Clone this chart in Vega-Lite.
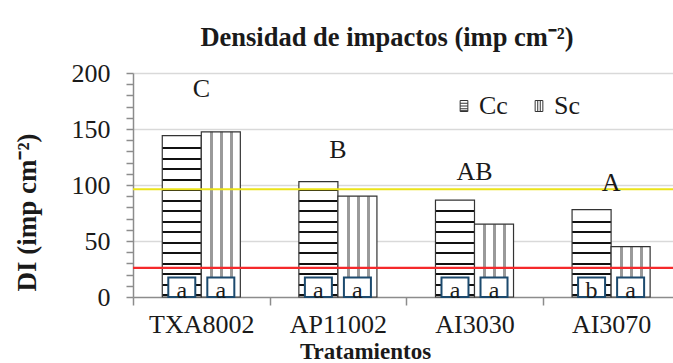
{
  "$schema": "https://vega.github.io/schema/vega-lite/v6.json",
  "autosize": {"type": "none"},
  "padding": {"left": 133, "top": 73, "right": 0, "bottom": 66},
  "width": 540,
  "height": 224,
  "background": "white",
  "title": {
    "text": "Densidad de impactos (imp cm⁻²)",
    "font": "Liberation Serif",
    "fontSize": 26.5,
    "fontWeight": "bold",
    "color": "#1a1a1a",
    "frame": "group",
    "anchor": "middle",
    "dx": -16,
    "baseline": "alphabetic",
    "offset": -12
  },
  "datasets": {
    "impactos": [
      {"trat": "TXA8002", "cond": "Cc", "di": 144, "letra": "a"},
      {"trat": "TXA8002", "cond": "Sc", "di": 147.5, "letra": "a"},
      {"trat": "AP11002", "cond": "Cc", "di": 103, "letra": "a"},
      {"trat": "AP11002", "cond": "Sc", "di": 90, "letra": "a"},
      {"trat": "AI3030", "cond": "Cc", "di": 86.5, "letra": "a"},
      {"trat": "AI3030", "cond": "Sc", "di": 65, "letra": "a"},
      {"trat": "AI3070", "cond": "Cc", "di": 78, "letra": "b"},
      {"trat": "AI3070", "cond": "Sc", "di": 45, "letra": "a"}
    ],
    "grupos": [
      {"trat": "TXA8002", "grupo": "C", "pos": 186},
      {"trat": "AP11002", "grupo": "B", "pos": 131.5},
      {"trat": "AI3030", "grupo": "AB", "pos": 112},
      {"trat": "AI3070", "grupo": "A", "pos": 102}
    ],
    "umbrales": [
      {"umbral": "superior", "di": 96.2},
      {"umbral": "inferior", "di": 26}
    ]
  },
  "encoding": {
    "x": {
      "field": "trat",
      "type": "nominal",
      "sort": ["TXA8002", "AP11002", "AI3030", "AI3070"],
      "scale": {"range": [0, 546.4], "paddingInner": 0, "paddingOuter": 0},
      "axis": {
        "title": "Tratamientos",
        "titleFont": "Liberation Serif",
        "titleFontSize": 23,
        "titleFontWeight": "bold",
        "titleColor": "#1a1a1a",
        "titleX": 232,
        "titleY": 61,
        "titleBaseline": "alphabetic",
        "titleAlign": "center",
        "labelAngle": 0,
        "labelFont": "Liberation Serif",
        "labelFontSize": 26,
        "labelColor": "#1a1a1a",
        "labelPadding": 27,
        "labelBaseline": "alphabetic",
        "tickBand": "extent",
        "tickSize": 8,
        "tickColor": "#8c8c8c",
        "tickWidth": 1.5,
        "domainColor": "#8c8c8c",
        "domainWidth": 1.5,
        "grid": false
      }
    },
    "y": {
      "field": "di",
      "type": "quantitative",
      "scale": {"domain": [0, 200], "nice": false},
      "axis": {
        "title": "DI (imp cm⁻²)",
        "titleFont": "Liberation Serif",
        "titleFontSize": 27,
        "titleFontWeight": "bold",
        "titleColor": "#1a1a1a",
        "titleAngle": -90,
        "titleX": -106,
        "titleY": 139,
        "titleAlign": "center",
        "titleBaseline": "middle",
        "values": [0, 10, 20, 30, 40, 50, 60, 70, 80, 90, 100, 110, 120, 130, 140, 150, 160, 170, 180, 190, 200],
        "labelExpr": "datum.value % 50 === 0 ? datum.label : ''",
        "labelFont": "Liberation Serif",
        "labelFontSize": 26,
        "labelColor": "#1a1a1a",
        "labelPadding": 16,
        "labelBaseline": "middle",
        "tickSize": 7,
        "tickColor": "#8c8c8c",
        "tickWidth": 1.5,
        "domainColor": "#8c8c8c",
        "domainWidth": 1.5,
        "grid": true,
        "gridColor": {"condition": {"test": "datum.value % 50 === 0 && datum.value > 0", "value": "#d9d9d9"}, "value": "transparent"},
        "gridWidth": 1.5,
        "encode": {
          "ticks": {
            "update": {
              "x": {"signal": "datum.value % 50 === 0 ? -7 : 0"},
              "x2": {"signal": "datum.value % 50 === 0 ? 7 : 6"}
            }
          }
        }
      }
    }
  },
  "layer": [
    {
      "data": {"name": "impactos"},
      "transform": [{"filter": "datum.cond === 'Cc' && datum.trat === 'TXA8002'"}],
      "mark": {
        "type": "bar", "stroke": "#333", "strokeWidth": 1.2,
        "fill": {"gradient": "linear", "x1": 0, "y1": 0, "x2": 0, "y2": 1, "stops": [
          {"offset": 0, "color": "white"},
          {"offset": 0.0698, "color": "white"}, {"offset": 0.0698, "color": "#111"}, {"offset": 0.0822, "color": "#111"}, {"offset": 0.0822, "color": "white"},
          {"offset": 0.1351, "color": "white"}, {"offset": 0.1351, "color": "#111"}, {"offset": 0.1475, "color": "#111"}, {"offset": 0.1475, "color": "white"},
          {"offset": 0.2004, "color": "white"}, {"offset": 0.2004, "color": "#111"}, {"offset": 0.2128, "color": "#111"}, {"offset": 0.2128, "color": "white"},
          {"offset": 0.2657, "color": "white"}, {"offset": 0.2657, "color": "#111"}, {"offset": 0.2781, "color": "#111"}, {"offset": 0.2781, "color": "white"},
          {"offset": 0.3310, "color": "white"}, {"offset": 0.3310, "color": "#111"}, {"offset": 0.3434, "color": "#111"}, {"offset": 0.3434, "color": "white"},
          {"offset": 0.3963, "color": "white"}, {"offset": 0.3963, "color": "#111"}, {"offset": 0.4087, "color": "#111"}, {"offset": 0.4087, "color": "white"},
          {"offset": 0.4616, "color": "white"}, {"offset": 0.4616, "color": "#111"}, {"offset": 0.4740, "color": "#111"}, {"offset": 0.4740, "color": "white"},
          {"offset": 0.5268, "color": "white"}, {"offset": 0.5268, "color": "#111"}, {"offset": 0.5393, "color": "#111"}, {"offset": 0.5393, "color": "white"},
          {"offset": 0.5921, "color": "white"}, {"offset": 0.5921, "color": "#111"}, {"offset": 0.6045, "color": "#111"}, {"offset": 0.6045, "color": "white"},
          {"offset": 0.6574, "color": "white"}, {"offset": 0.6574, "color": "#111"}, {"offset": 0.6698, "color": "#111"}, {"offset": 0.6698, "color": "white"},
          {"offset": 0.7227, "color": "white"}, {"offset": 0.7227, "color": "#111"}, {"offset": 0.7351, "color": "#111"}, {"offset": 0.7351, "color": "white"},
          {"offset": 0.7880, "color": "white"}, {"offset": 0.7880, "color": "#111"}, {"offset": 0.8004, "color": "#111"}, {"offset": 0.8004, "color": "white"},
          {"offset": 0.8533, "color": "white"}, {"offset": 0.8533, "color": "#111"}, {"offset": 0.8657, "color": "#111"}, {"offset": 0.8657, "color": "white"},
          {"offset": 0.9186, "color": "white"}, {"offset": 0.9186, "color": "#111"}, {"offset": 0.9310, "color": "#111"}, {"offset": 0.9310, "color": "white"},
          {"offset": 0.9839, "color": "white"}, {"offset": 0.9839, "color": "#111"}, {"offset": 0.9963, "color": "#111"}, {"offset": 0.9963, "color": "white"},
          {"offset": 1, "color": "white"}
        ]}
      },
      "encoding": {
        "xOffset": {"field": "cond", "scale": {"domain": ["Cc", "Sc"], "paddingInner": 0, "paddingOuter": 0.75}}
      }
    },
    {
      "data": {"name": "impactos"},
      "transform": [{"filter": "datum.cond === 'Cc' && datum.trat === 'AP11002'"}],
      "mark": {
        "type": "bar", "stroke": "#333", "strokeWidth": 1.2,
        "fill": {"gradient": "linear", "x1": 0, "y1": 0, "x2": 0, "y2": 1, "stops": [
          {"offset": 0, "color": "white"},
          {"offset": 0.0647, "color": "white"}, {"offset": 0.0647, "color": "#111"}, {"offset": 0.0820, "color": "#111"}, {"offset": 0.0820, "color": "white"},
          {"offset": 0.1559, "color": "white"}, {"offset": 0.1559, "color": "#111"}, {"offset": 0.1733, "color": "#111"}, {"offset": 0.1733, "color": "white"},
          {"offset": 0.2472, "color": "white"}, {"offset": 0.2472, "color": "#111"}, {"offset": 0.2646, "color": "#111"}, {"offset": 0.2646, "color": "white"},
          {"offset": 0.3385, "color": "white"}, {"offset": 0.3385, "color": "#111"}, {"offset": 0.3558, "color": "#111"}, {"offset": 0.3558, "color": "white"},
          {"offset": 0.4298, "color": "white"}, {"offset": 0.4298, "color": "#111"}, {"offset": 0.4471, "color": "#111"}, {"offset": 0.4471, "color": "white"},
          {"offset": 0.5211, "color": "white"}, {"offset": 0.5211, "color": "#111"}, {"offset": 0.5384, "color": "#111"}, {"offset": 0.5384, "color": "white"},
          {"offset": 0.6123, "color": "white"}, {"offset": 0.6123, "color": "#111"}, {"offset": 0.6297, "color": "#111"}, {"offset": 0.6297, "color": "white"},
          {"offset": 0.7036, "color": "white"}, {"offset": 0.7036, "color": "#111"}, {"offset": 0.7210, "color": "#111"}, {"offset": 0.7210, "color": "white"},
          {"offset": 0.7949, "color": "white"}, {"offset": 0.7949, "color": "#111"}, {"offset": 0.8122, "color": "#111"}, {"offset": 0.8122, "color": "white"},
          {"offset": 0.8862, "color": "white"}, {"offset": 0.8862, "color": "#111"}, {"offset": 0.9035, "color": "#111"}, {"offset": 0.9035, "color": "white"},
          {"offset": 0.9775, "color": "white"}, {"offset": 0.9775, "color": "#111"}, {"offset": 0.9948, "color": "#111"}, {"offset": 0.9948, "color": "white"},
          {"offset": 1, "color": "white"}
        ]}
      },
      "encoding": {
        "xOffset": {"field": "cond", "scale": {"domain": ["Cc", "Sc"], "paddingInner": 0, "paddingOuter": 0.75}}
      }
    },
    {
      "data": {"name": "impactos"},
      "transform": [{"filter": "datum.cond === 'Cc' && datum.trat === 'AI3030'"}],
      "mark": {
        "type": "bar", "stroke": "#333", "strokeWidth": 1.2,
        "fill": {"gradient": "linear", "x1": 0, "y1": 0, "x2": 0, "y2": 1, "stops": [
          {"offset": 0, "color": "white"},
          {"offset": 0.1036, "color": "white"}, {"offset": 0.1036, "color": "#111"}, {"offset": 0.1243, "color": "#111"}, {"offset": 0.1243, "color": "white"},
          {"offset": 0.2123, "color": "white"}, {"offset": 0.2123, "color": "#111"}, {"offset": 0.2330, "color": "#111"}, {"offset": 0.2330, "color": "white"},
          {"offset": 0.3210, "color": "white"}, {"offset": 0.3210, "color": "#111"}, {"offset": 0.3417, "color": "#111"}, {"offset": 0.3417, "color": "white"},
          {"offset": 0.4297, "color": "white"}, {"offset": 0.4297, "color": "#111"}, {"offset": 0.4504, "color": "#111"}, {"offset": 0.4504, "color": "white"},
          {"offset": 0.5384, "color": "white"}, {"offset": 0.5384, "color": "#111"}, {"offset": 0.5590, "color": "#111"}, {"offset": 0.5590, "color": "white"},
          {"offset": 0.6471, "color": "white"}, {"offset": 0.6471, "color": "#111"}, {"offset": 0.6677, "color": "#111"}, {"offset": 0.6677, "color": "white"},
          {"offset": 0.7558, "color": "white"}, {"offset": 0.7558, "color": "#111"}, {"offset": 0.7764, "color": "#111"}, {"offset": 0.7764, "color": "white"},
          {"offset": 0.8645, "color": "white"}, {"offset": 0.8645, "color": "#111"}, {"offset": 0.8851, "color": "#111"}, {"offset": 0.8851, "color": "white"},
          {"offset": 0.9732, "color": "white"}, {"offset": 0.9732, "color": "#111"}, {"offset": 0.9938, "color": "#111"}, {"offset": 0.9938, "color": "white"},
          {"offset": 1, "color": "white"}
        ]}
      },
      "encoding": {
        "xOffset": {"field": "cond", "scale": {"domain": ["Cc", "Sc"], "paddingInner": 0, "paddingOuter": 0.75}}
      }
    },
    {
      "data": {"name": "impactos"},
      "transform": [{"filter": "datum.cond === 'Cc' && datum.trat === 'AI3070'"}],
      "mark": {
        "type": "bar", "stroke": "#333", "strokeWidth": 1.2,
        "fill": {"gradient": "linear", "x1": 0, "y1": 0, "x2": 0, "y2": 1, "stops": [
          {"offset": 0, "color": "white"},
          {"offset": 0.1265, "color": "white"}, {"offset": 0.1265, "color": "#111"}, {"offset": 0.1494, "color": "#111"}, {"offset": 0.1494, "color": "white"},
          {"offset": 0.2470, "color": "white"}, {"offset": 0.2470, "color": "#111"}, {"offset": 0.2699, "color": "#111"}, {"offset": 0.2699, "color": "white"},
          {"offset": 0.3676, "color": "white"}, {"offset": 0.3676, "color": "#111"}, {"offset": 0.3904, "color": "#111"}, {"offset": 0.3904, "color": "white"},
          {"offset": 0.4881, "color": "white"}, {"offset": 0.4881, "color": "#111"}, {"offset": 0.5110, "color": "#111"}, {"offset": 0.5110, "color": "white"},
          {"offset": 0.6086, "color": "white"}, {"offset": 0.6086, "color": "#111"}, {"offset": 0.6315, "color": "#111"}, {"offset": 0.6315, "color": "white"},
          {"offset": 0.7292, "color": "white"}, {"offset": 0.7292, "color": "#111"}, {"offset": 0.7520, "color": "#111"}, {"offset": 0.7520, "color": "white"},
          {"offset": 0.8497, "color": "white"}, {"offset": 0.8497, "color": "#111"}, {"offset": 0.8726, "color": "#111"}, {"offset": 0.8726, "color": "white"},
          {"offset": 0.9702, "color": "white"}, {"offset": 0.9702, "color": "#111"}, {"offset": 0.9931, "color": "#111"}, {"offset": 0.9931, "color": "white"},
          {"offset": 1, "color": "white"}
        ]}
      },
      "encoding": {
        "xOffset": {"field": "cond", "scale": {"domain": ["Cc", "Sc"], "paddingInner": 0, "paddingOuter": 0.75}}
      }
    },
    {
      "data": {"name": "impactos"},
      "transform": [{"filter": "datum.cond === 'Sc'"}],
      "mark": {
        "type": "bar", "stroke": "#333", "strokeWidth": 1.2,
        "fill": {"gradient": "linear", "x1": 0, "y1": 0, "x2": 1, "y2": 0, "stops": [
          {"offset": 0, "color": "white"},
          {"offset": 0.227, "color": "white"}, {"offset": 0.227, "color": "#9a9a9a"}, {"offset": 0.304, "color": "#9a9a9a"}, {"offset": 0.304, "color": "white"},
          {"offset": 0.482, "color": "white"}, {"offset": 0.482, "color": "#9a9a9a"}, {"offset": 0.558, "color": "#9a9a9a"}, {"offset": 0.558, "color": "white"},
          {"offset": 0.737, "color": "white"}, {"offset": 0.737, "color": "#9a9a9a"}, {"offset": 0.813, "color": "#9a9a9a"}, {"offset": 0.813, "color": "white"},
          {"offset": 1, "color": "white"}
        ]}
      },
      "encoding": {
        "xOffset": {"field": "cond", "scale": {"domain": ["Cc", "Sc"], "paddingInner": 0, "paddingOuter": 0.75}}
      }
    },
    {
      "data": {"name": "umbrales"},
      "mark": {"type": "rule", "strokeWidth": 2.2},
      "encoding": {
        "x": null,
        "y": {"field": "di", "type": "quantitative"},
        "color": {
          "field": "umbral",
          "type": "nominal",
          "scale": {"domain": ["superior", "inferior"], "range": ["#ebe31a", "#f5292b"]},
          "legend": null
        }
      }
    },
    {
      "data": {"name": "impactos"},
      "mark": {"type": "bar", "width": 27, "fill": "white", "stroke": "#1c4a6e", "strokeWidth": 2},
      "encoding": {
        "xOffset": {"field": "cond", "scale": {"domain": ["Cc", "Sc"], "paddingInner": 0, "paddingOuter": 0.75}},
        "y": {"datum": 17.5},
        "y2": {"datum": 0}
      }
    },
    {
      "data": {"name": "impactos"},
      "mark": {"type": "text", "font": "Liberation Serif", "fontSize": 24, "color": "#1a1a1a", "baseline": "alphabetic", "dy": 1},
      "encoding": {
        "xOffset": {"field": "cond", "scale": {"domain": ["Cc", "Sc"], "paddingInner": 0, "paddingOuter": 0.75}},
        "y": {"datum": 0},
        "text": {"field": "letra"}
      }
    },
    {
      "data": {"name": "grupos"},
      "mark": {"type": "text", "font": "Liberation Serif", "fontSize": 26, "color": "#1a1a1a", "baseline": "middle"},
      "encoding": {
        "y": {"field": "pos", "type": "quantitative"},
        "text": {"field": "grupo"}
      }
    },
    {
      "data": {"name": "impactos"},
      "mark": {"type": "point", "opacity": 0, "filled": false},
      "encoding": {
        "xOffset": {"field": "cond", "scale": {"domain": ["Cc", "Sc"], "paddingInner": 0, "paddingOuter": 0.75}},
        "shape": {
          "field": "cond",
          "type": "nominal",
          "scale": {
            "domain": ["Cc", "Sc"],
            "range": [
              "M-0.7,-1H0.7V1H-0.7Z M-0.7,-0.5H0.7 M-0.7,0H0.7 M-0.7,0.5H0.7 M-0.7,0.85H0.7",
              "M-0.7,-1H0.7V1H-0.7Z M-0.23,-1V1 M0.23,-1V1"
            ]
          },
          "legend": {
            "title": null,
            "orient": "none",
            "legendX": 318,
            "legendY": 20,
            "direction": "horizontal",
            "symbolSize": 121,
            "symbolOpacity": 1,
            "symbolFillColor": "white",
            "symbolStrokeColor": "#333",
            "symbolStrokeWidth": 1,
            "labelFont": "Liberation Serif",
            "labelFontSize": 26,
            "labelColor": "#1a1a1a",
            "labelOffset": 2,
            "columnPadding": 18
          }
        }
      }
    }
  ],
  "config": {
    "view": {"stroke": null},
    "font": "Liberation Serif"
  }
}
